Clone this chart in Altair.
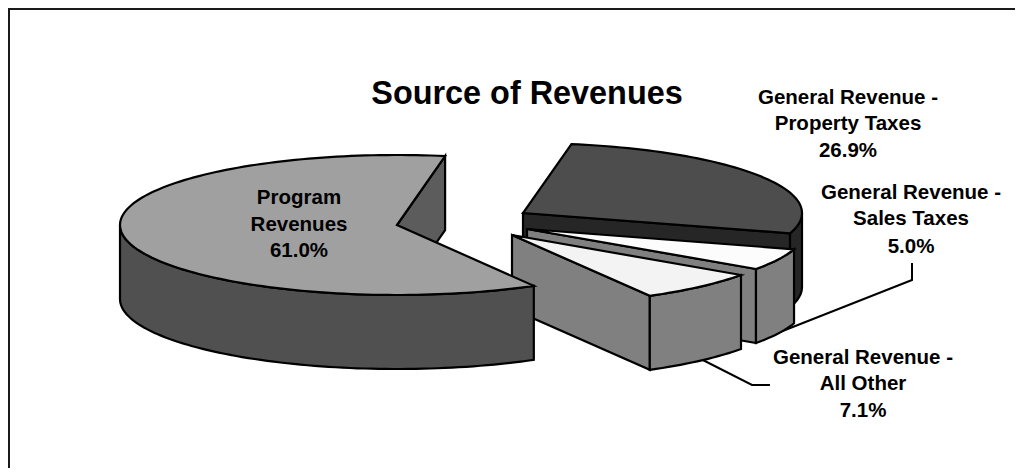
import math
import altair as alt

# Values, in drawing order around the pie
categories = ["Program Revenues", "General Revenue - All Other",
              "General Revenue - Sales Taxes", "General Revenue - Property Taxes"]
shares = [61.0, 7.1, 5.0, 26.9]
title_text = "Source of Revenues"

# Pie projection
START = 80.0
RY, DEPTH = 70.0, 74.0
radii = {categories[0]: 277.0, categories[1]: 279.0, categories[2]: 279.0, categories[3]: 279.0}
centers = {
    categories[0]: (397, 225),
    categories[1]: (512, 235),
    categories[2]: (527, 229),
    categories[3]: (523, 213),
}
styles = {  # top, outer wall, cut wall
    categories[0]: ("#a0a0a0", "#505050", "#5c5c5c"),
    categories[1]: ("#f3f3f3", "#808080", "#808080"),
    categories[2]: ("#fcfcfc", "#808080", "#808080"),
    categories[3]: ("#4d4d4d", "#262626", "#262626"),
}


def pt(cat, t, dz=0.0):
    c = centers[cat]
    r = math.radians(t)
    return [c[0] + radii[cat] * math.cos(r), c[1] - RY * math.sin(r) + dz]


def arc(cat, t0, t1, dz=0.0):
    n = max(2, int(abs(t1 - t0) / 1.5))
    return [pt(cat, t0 + (t1 - t0) * i / n, dz) for i in range(n + 1)]


def poly(coords, fill):
    return {"type": "Feature", "properties": {"fill": fill},
            "geometry": {"type": "Polygon", "coordinates": [coords + [coords[0]]]}}


def line(coords):
    return {"type": "Feature", "properties": {},
            "geometry": {"type": "LineString", "coordinates": coords}}


# Angular span of every slice, from its share
spans = {}
a = START
for cat, s in zip(categories, shares):
    spans[cat] = (a, a + s * 3.6)
    a += s * 3.6


def slice_shapes(cat, wall_from, wall_to):
    t0, t1 = spans[cat]
    c = list(centers[cat])
    low = [c[0], c[1] + DEPTH]
    top, wall, cut = styles[cat]
    return [
        poly([c, pt(cat, t0), pt(cat, t0, DEPTH), low], cut),
        poly(arc(cat, wall_from, wall_to) + arc(cat, wall_to, wall_from, DEPTH), wall),
        poly([c] + arc(cat, t0, t1), top),
    ]


features = (
    slice_shapes(categories[3], spans[categories[3]][0], 360.0)
    + slice_shapes(categories[2], *spans[categories[2]])
    + slice_shapes(categories[1], *spans[categories[1]])
    + slice_shapes(categories[0], 180.0, spans[categories[0]][1])
)

leaders = [
    line([[912, 263], [912, 280], [775, 334]]),
    line([[770, 385], [752, 385], [693, 355]]),
]
frame = [line([[9, 6], [9, 476]]), line([[8, 9], [1023, 9]])]

proj = dict(type="identity", scale=1, translate=[-8, -8])

leader_layer = alt.Chart(alt.Data(values=leaders)).mark_geoshape(
    filled=False, stroke="black", strokeWidth=2).project(**proj)
frame_layer = alt.Chart(alt.Data(values=frame)).mark_geoshape(
    filled=False, stroke="#1a1a1a", strokeWidth=2).project(**proj)
pie_layer = alt.Chart(alt.Data(values=features)).mark_geoshape(
    stroke="black", strokeWidth=2.2, strokeJoin="miter", strokeMiterLimit=8
).encode(fill=alt.Fill("properties.fill:N", scale=None)).project(**proj)

labels = [
    {"x": 848 - 8, "y": 98 - 8, "t": "General Revenue -"},
    {"x": 848 - 8, "y": 124 - 8, "t": "Property Taxes"},
    {"x": 848 - 8, "y": 151 - 8, "t": "26.9%"},
    {"x": 911 - 8, "y": 193 - 8, "t": "General Revenue -"},
    {"x": 911 - 8, "y": 219 - 8, "t": "Sales Taxes"},
    {"x": 911 - 8, "y": 247 - 8, "t": "5.0%"},
    {"x": 863 - 8, "y": 358 - 8, "t": "General Revenue -"},
    {"x": 863 - 8, "y": 384 - 8, "t": "All Other"},
    {"x": 863 - 8, "y": 411 - 8, "t": "7.1%"},
    {"x": 299 - 8, "y": 198 - 8, "t": "Program"},
    {"x": 299 - 8, "y": 225 - 8, "t": "Revenues"},
    {"x": 299 - 8, "y": 251 - 8, "t": "61.0%"},
]
label_layer = alt.Chart(alt.Data(values=labels)).mark_text(
    font="Liberation Sans", fontWeight="bold", fontSize=20.5, color="black",
    align="center", baseline="middle"
).encode(x=alt.X("x:Q", scale=None), y=alt.Y("y:Q", scale=None), text="t:N")

title_layer = alt.Chart(alt.Data(values=[{"x": 527 - 8, "y": 94 - 8, "t": title_text}])).mark_text(
    font="Liberation Sans", fontWeight="bold", fontSize=32.4, color="black",
    align="center", baseline="middle"
).encode(x=alt.X("x:Q", scale=None), y=alt.Y("y:Q", scale=None), text="t:N")

chart = alt.layer(frame_layer, leader_layer, pie_layer, label_layer, title_layer).properties(
    width=1007, height=460, padding=0, background="white",
    autosize=alt.AutoSizeParams(type="none")
).configure_view(stroke=None)

chart.save("out.html", embed_options={"renderer": "svg", "actions": False})
